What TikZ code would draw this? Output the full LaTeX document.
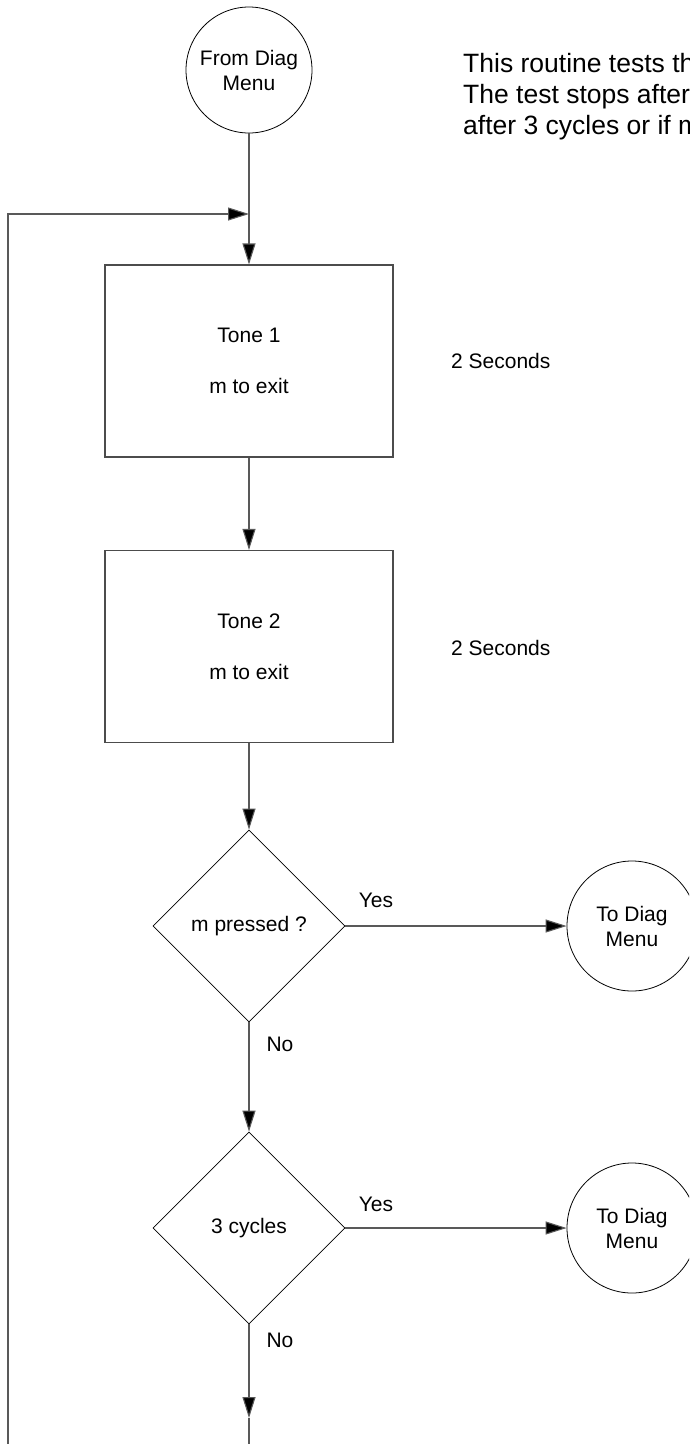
\documentclass[tikz,border=0pt]{standalone}
\usepackage{fontspec}
\setmainfont{Liberation Sans}
\usetikzlibrary{shapes.geometric,arrows.meta}
\tikzset{
  txt/.style={font=\fontsize{21}{25}\selectfont, inner sep=0pt},
  notetxt/.style={font=\fontsize{26.5}{31}\selectfont, inner sep=0pt, anchor=base west},
  procbox/.style={txt, draw=black!70, line width=1.1pt, rectangle, minimum width=288pt, minimum height=192pt, align=center},
  decision/.style={txt, draw=black, line width=0.8pt, diamond, aspect=1, minimum width=192pt, minimum height=192pt, align=center},
  term/.style={txt, draw=black, line width=0.8pt, circle, align=center},
  conn/.style={draw=black!65, line width=1.1pt},
  arr/.style={conn, -{Triangle[length=21pt,width=13pt,fill=black]}},
  lbl/.style={txt}
}
\begin{document}
\begin{tikzpicture}[x=1pt,y=-1pt]
\clip (0,0) rectangle (689,1444);
\fill[white] (0,0) rectangle (689,1444);

% note text (cropped at the right edge)
\node[notetxt] (note1) at (463,72) {This routine tests th};
\node[notetxt] (note2) at (463,103) {The test stops after};
\node[notetxt] (note3) at (463,134) {after 3 cycles or if m};

% shapes
\node[term, minimum size=126pt] (start) at (249,70) {From Diag\\Menu};
\node[procbox] (tone1) at (249,361) {Tone 1\\[26pt]m to exit};
\node[lbl, anchor=west] (sec1) at (451,361) {2 Seconds};
\node[procbox] (tone2) at (249,646.5) {Tone 2\\[26pt]m to exit};
\node[lbl, anchor=west] (sec2) at (451,648) {2 Seconds};
\node[decision] (d1) at (249,926) {m pressed ?};
\node[term, minimum size=130pt] (e1) at (632,926) {To Diag\\Menu};
\node[decision] (d2) at (249,1228) {3 cycles};
\node[term, minimum size=130pt] (e2) at (632,1228) {To Diag\\Menu};

% labels
\node[lbl] (yes1) at (376,900) {Yes};
\node[lbl] (no1) at (280,1044) {No};
\node[lbl] (yes2) at (376,1204) {Yes};
\node[lbl] (no2) at (280,1340) {No};

% helper coordinates
\coordinate (join) at (249,214);
\coordinate (loopL) at (8,214);
\coordinate (loopB) at (8,1460);
\coordinate (downtip) at (249,1418);
\coordinate (downend) at (249,1460);

% connectors
\draw[arr] (start.south) -- (tone1.north);
\draw[arr] (loopB) -- (loopL) -- (join);
\draw[arr] (tone1.south) -- (tone2.north);
\draw[arr] (tone2.south) -- (d1.north);
\draw[arr] (d1.east) -- (e1.west);
\draw[arr] (d1.south) -- (d2.north);
\draw[arr] (d2.east) -- (e2.west);
\draw[arr] (d2.south) -- (downtip);
\draw[conn] (downtip) -- (downend);
\end{tikzpicture}
\end{document}
